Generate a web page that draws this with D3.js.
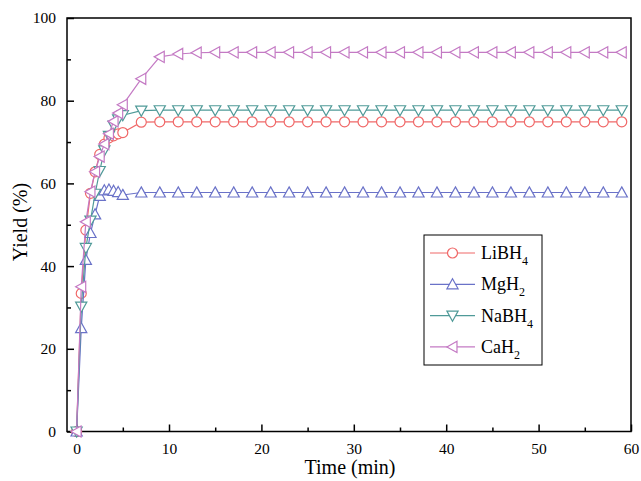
<!DOCTYPE html>
<html>
<head>
<meta charset="utf-8">
<script src="https://cdn.jsdelivr.net/npm/d3@7"></script>
<style>
body{margin:0;background:#fff;}
svg{display:block;font-family:"Liberation Serif","Times New Roman",serif;}
</style>
</head>
<body>
<svg id="chart" width="641" height="481"></svg>
<script>
const times = [0,0.5,1,1.5,2,2.5,3,3.5,4,4.5,5,7,9,11,13,15,17,19,21,23,25,27,29,31,33,35,37,39,41,43,45,47,49,51,53,55,57,59];
const libh4 = [0,33.4,48.7,57.6,62.8,67,69.5,71,71.5,72,72.3,74.8,74.9,74.9,74.9,74.9,74.9,74.9,74.9,74.9,74.9,74.9,74.9,74.9,74.9,74.9,74.9,74.9,74.9,74.9,74.9,74.9,74.9,74.9,74.9,74.9,74.9,74.9];
const mgh2 = [0,25,41.5,48,52.5,57,58.3,58.5,58.2,57.9,57.2,57.8,57.8,57.8,57.8,57.8,57.8,57.8,57.8,57.8,57.8,57.8,57.8,57.8,57.8,57.8,57.8,57.8,57.8,57.8,57.8,57.8,57.8,57.8,57.8,57.8,57.8,57.8];
const nabh4 = [0,30.2,44.4,51,57.5,63,68,71.5,74,75.5,76.5,77.6,77.7,77.7,77.7,77.7,77.7,77.7,77.7,77.7,77.7,77.7,77.7,77.7,77.7,77.7,77.7,77.7,77.7,77.7,77.7,77.7,77.7,77.7,77.7,77.7,77.7,77.7];
const cah2 = [0,35,50.7,58,62.8,66.5,69.5,72,75,77,79,85.3,90.6,91.3,91.6,91.7,91.7,91.7,91.7,91.7,91.7,91.7,91.7,91.7,91.7,91.7,91.7,91.7,91.7,91.7,91.7,91.7,91.7,91.7,91.7,91.7,91.7,91.7];
const seriesNames = ["LiBH4","MgH2","NaBH4","CaH2"];
const seriesBase = ["LiBH","MgH","NaBH","CaH"];
const seriesSub = ["4","2","4","2"];
const seriesColors = ["#f06868","#6a72c8","#4f9a98","#c47ac4"];
const seriesShapes = ["circle","up","down","left"];
const xTicks = [0,10,20,30,40,50,60];
const yTicks = [0,20,40,60,80,100];

const svg = d3.select("#chart");
const L = 67, R = 631, T = 18, B = 431.5;
const x = d3.scaleLinear().domain([-1.04, 60]).range([L, R]);
const y = d3.scaleLinear().domain([0, 100]).range([B, T]);

// frame
svg.append("rect").attr("x", L).attr("y", T).attr("width", R - L).attr("height", B - T)
  .attr("fill", "none").attr("stroke", "#000").attr("stroke-width", 1.5);

// x axis
const xAxis = d3.axisBottom(x).tickValues(xTicks).tickSizeInner(-7).tickSizeOuter(0).tickPadding(11).tickFormat(d3.format("d"));
const gx = svg.append("g").attr("transform", `translate(0,${B})`).call(xAxis);
gx.select(".domain").remove();
gx.selectAll("line").attr("stroke-width", 1.5);
gx.selectAll("text").attr("font-size", 15.5).attr("font-family", "Liberation Serif").attr("fill", "#000");
const xMinor = d3.axisBottom(x).tickValues(d3.range(5, 60, 10)).tickSizeInner(-4).tickSizeOuter(0).tickFormat("");
const gxm = svg.append("g").attr("transform", `translate(0,${B})`).call(xMinor);
gxm.select(".domain").remove();
gxm.selectAll("line").attr("stroke-width", 1.5);

// y axis
const yAxis = d3.axisLeft(y).tickValues(yTicks).tickSizeInner(-7).tickSizeOuter(0).tickPadding(11);
const gy = svg.append("g").attr("transform", `translate(${L},0)`).call(yAxis);
gy.select(".domain").remove();
gy.selectAll("line").attr("stroke-width", 1.5);
gy.selectAll("text").attr("font-size", 15.5).attr("font-family", "Liberation Serif").attr("fill", "#000");
const yMinor = d3.axisLeft(y).tickValues(d3.range(10, 100, 20)).tickSizeInner(-4).tickSizeOuter(0).tickFormat("");
const gym = svg.append("g").attr("transform", `translate(${L},0)`).call(yMinor);
gym.select(".domain").remove();
gym.selectAll("line").attr("stroke-width", 1.5);

// axis titles
svg.append("text").attr("x", 350).attr("y", 474).attr("text-anchor", "middle")
  .attr("font-family", "Liberation Serif").attr("font-size", 20).attr("font-weight", 400).text("Time (min)");
svg.append("text").attr("transform", "translate(27,222) rotate(-90)").attr("text-anchor", "middle")
  .attr("font-family", "Liberation Serif").attr("font-size", 20).attr("font-weight", 400).text("Yield (%)");

function markerPath(shape) {
  if (shape === "circle") return d3.symbol().type(d3.symbolCircle).size(Math.PI * 25)();
  const s = 5.6;
  if (shape === "up") return `M0,${-s}L${s},${s*0.8}L${-s},${s*0.8}Z`;
  if (shape === "down") return `M0,${s}L${s},${-s*0.8}L${-s},${-s*0.8}Z`;
  return `M${-s},0L${s*0.8},${-s}L${s*0.8},${s}Z`;
}

const allData = [libh4, mgh2, nabh4, cah2];
const line = d3.line().x(d => x(d[0])).y(d => y(d[1]));
allData.forEach((vals, i) => {
  const pts = times.map((t, j) => [t, vals[j]]);
  const g = svg.append("g");
  g.append("path").datum(pts).attr("d", line).attr("fill", "none")
    .attr("stroke", seriesColors[i]).attr("stroke-width", 1.2);
  g.selectAll("path.m").data(pts).enter().append("path").attr("class", "m")
    .attr("transform", d => `translate(${x(d[0])},${y(d[1])})`)
    .attr("d", markerPath(seriesShapes[i]))
    .attr("fill", "#fff").attr("stroke", seriesColors[i]).attr("stroke-width", 1.2);
});

// legend
const lg = svg.append("g");
lg.append("rect").attr("x", 424).attr("y", 235).attr("width", 118).attr("height", 130)
  .attr("fill", "#fff").attr("stroke", "#000").attr("stroke-width", 1);
seriesNames.forEach((n, i) => {
  const yy = 253 + i * 31.3;
  lg.append("line").attr("x1", 430).attr("x2", 475).attr("y1", yy).attr("y2", yy)
    .attr("stroke", seriesColors[i]).attr("stroke-width", 1.2);
  lg.append("path").attr("transform", `translate(452.5,${yy})`).attr("d", markerPath(seriesShapes[i]))
    .attr("fill", "#fff").attr("stroke", seriesColors[i]).attr("stroke-width", 1.2);
  const t = lg.append("text").attr("x", 481).attr("y", yy + 6).attr("font-size", 18);
  t.append("tspan").text(seriesBase[i]);
  t.append("tspan").attr("font-size", 12).attr("dy", 6).text(seriesSub[i]);
});
</script>
</body>
</html>
